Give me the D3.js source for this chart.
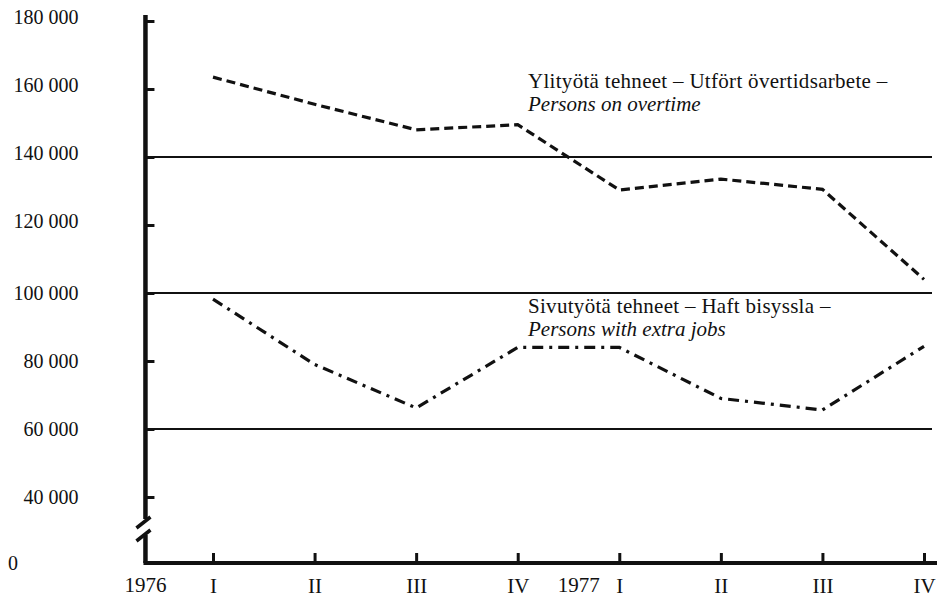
<!DOCTYPE html>
<html>
<head>
<meta charset="utf-8">
<script src="https://cdn.jsdelivr.net/npm/d3@7"></script>
<style>
  body { margin: 0; background: #fff; }
  svg text { font-family: "Liberation Serif", "DejaVu Serif", serif; fill: #111; }
</style>
</head>
<body>
<div id="chart"></div>
<script>
// Quarters 1976 I .. 1977 IV
const quarters = ["I", "II", "III", "IV", "I", "II", "III", "IV"];
const overtime = [163500, 155500, 148000, 149500, 130300, 133500, 130500, 104000];
const extraJobs = [98200, 79000, 66200, 84000, 84000, 69000, 65600, 84300];
const yTicks = [40000, 60000, 80000, 100000, 120000, 140000, 160000, 180000];
const gridValues = [60000, 100000, 140000];
const years = [{label: "1976", pos: -0.665}, {label: "1977", pos: 3.6}];

const width = 937, height = 598;

const svg = d3.select("#chart")
    .append("svg")
    .attr("width", width)
    .attr("height", height);

// scales
const x = d3.scaleLinear().domain([0, 7]).range([213, 924]);
const y = d3.scaleLinear().domain([40000, 180000]).range([497, 21]);
const axisX = x(-0.665);
const baseY = 563;

// gridlines
svg.append("g")
    .selectAll("line")
    .data(gridValues)
    .join("line")
    .attr("x1", axisX)
    .attr("x2", 932)
    .attr("y1", d => y(d))
    .attr("y2", d => y(d))
    .attr("stroke", "#111")
    .attr("stroke-width", 2);

// y axis ticks and labels
const yAxis = svg.append("g")
    .attr("transform", `translate(${axisX},0)`)
    .call(d3.axisLeft(y)
        .tickValues(yTicks)
        .tickSizeInner(-9)
        .tickSizeOuter(0)
        .tickPadding(67)
        .tickFormat(d => d3.format(",")(d).replace(",", " ")));
yAxis.select(".domain").remove();
yAxis.selectAll(".tick line").attr("stroke", "#111").attr("stroke-width", 3);
yAxis.selectAll(".tick text")
    .attr("font-size", 20)
    .attr("dy", (d) => d >= 120000 ? "0.1em" : "0.32em");

// zero label
svg.append("text")
    .attr("x", 8)
    .attr("y", baseY + 7)
    .attr("font-size", 20)
    .text("0");

// vertical axis with break
svg.append("line")
    .attr("x1", axisX).attr("x2", axisX)
    .attr("y1", 15).attr("y2", 519)
    .attr("stroke", "#111").attr("stroke-width", 4.5);
svg.append("line")
    .attr("x1", axisX).attr("x2", axisX)
    .attr("y1", 535).attr("y2", baseY)
    .attr("stroke", "#111").attr("stroke-width", 4.5);
svg.append("path")
    .attr("d", `M${axisX - 9},528 L${axisX + 5},517 M${axisX - 9},541 L${axisX + 5},530`)
    .attr("stroke", "#111").attr("stroke-width", 3.5).attr("fill", "none");

// x axis
const xAxis = svg.append("g")
    .attr("transform", `translate(0,${baseY})`)
    .call(d3.axisBottom(x)
        .tickValues(d3.range(quarters.length))
        .tickSizeInner(-10)
        .tickSizeOuter(0)
        .tickPadding(15)
        .tickFormat(i => quarters[i]));
xAxis.select(".domain").remove();
xAxis.selectAll(".tick line").attr("stroke", "#111").attr("stroke-width", 3);
xAxis.selectAll(".tick text").attr("font-size", 21).attr("fill", "#111");

svg.append("line")
    .attr("x1", axisX - 2).attr("x2", width)
    .attr("y1", baseY).attr("y2", baseY)
    .attr("stroke", "#111").attr("stroke-width", 4);

// year labels
svg.append("g")
    .selectAll("text")
    .data(years)
    .join("text")
    .attr("x", d => x(d.pos))
    .attr("y", baseY + 29)
    .attr("text-anchor", "middle")
    .attr("font-size", 21)
    .text(d => d.label);

// series lines
const line = d3.line()
    .x((d, i) => x(i))
    .y(d => y(d));

svg.append("path")
    .datum(overtime)
    .attr("d", line)
    .attr("fill", "none")
    .attr("stroke", "#111")
    .attr("stroke-width", 3.2)
    .attr("stroke-dasharray", "9,5");

svg.append("path")
    .datum(extraJobs)
    .attr("d", line)
    .attr("fill", "none")
    .attr("stroke", "#111")
    .attr("stroke-width", 3.2)
    .attr("stroke-dasharray", "11,6,3,6");

// annotations
const notes = [
    {x: 528, y: 88, text: "Ylityötä tehneet – Utfört övertidsarbete –", italic: false},
    {x: 528, y: 111, text: "Persons on overtime", italic: true},
    {x: 528, y: 313, text: "Sivutyötä tehneet – Haft bisyssla –", italic: false},
    {x: 528, y: 336, text: "Persons with extra jobs", italic: true}
];
svg.append("g")
    .selectAll("text")
    .data(notes)
    .join("text")
    .attr("x", d => d.x)
    .attr("y", d => d.y)
    .attr("font-size", 21)
    .attr("letter-spacing", d => d.italic ? 0 : 0.3)
    .attr("font-style", d => d.italic ? "italic" : "normal")
    .text(d => d.text);
</script>
</body>
</html>
